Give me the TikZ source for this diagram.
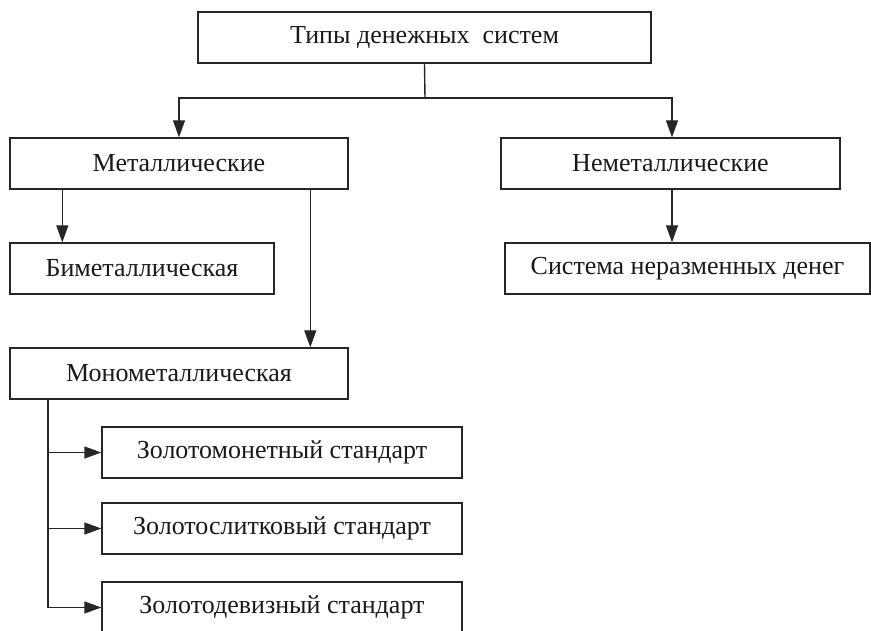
\documentclass[tikz,border=0pt]{standalone}
\usepackage{fontspec}
\setmainfont{Liberation Serif}
\usetikzlibrary{arrows.meta,calc}
\begin{document}
\begin{tikzpicture}[x=1pt,y=-1pt,
  box/.style={draw=black!85,line width=1.4pt,minimum height=51pt,inner sep=0pt,
    font=\fontsize{26}{31}\selectfont,text=black!90},
  link/.style={draw=black!85,line width=1.4pt},
  arr/.style={link,-{Triangle[length=17pt,width=12pt]}}]
\useasboundingbox (0,0) rectangle (871,631);
\clip (0,0) rectangle (871,631);
\node[box,minimum width=453pt] (top) at (424.5,37.5) {Типы денежных\ \ систем};
\node[box,minimum width=338pt] (metal) at (179,163.5) {Металлические};
\node[box,minimum width=339pt] (nonmetal) at (670.5,163.5) {Неметаллические};
\node[box,minimum width=264pt] (bimetal) at (142,268.5) {Биметаллическая};
\node[box,minimum width=365pt] (fiat) at (687.5,268.5) {Система неразменных денег};
\node[box,minimum width=338pt] (mono) at (179,373.5) {Монометаллическая};
\node[box,minimum width=360pt] (zA) at (282,452.5) {Золотомонетный стандарт};
\node[box,minimum width=360pt] (zB) at (282,528.5) {Золотослитковый стандарт};
\node[box,minimum width=360pt] (zC) at (282,607.5) {Золотодевизный стандарт};
\coordinate (j) at (425,98);
\coordinate (jr) at (672,98);
\coordinate (t) at (48,607.5);
\draw[link] (top.south) -- (j);
\draw[arr] (j) -| (metal.north);
\draw[arr] (j) -- (jr) -- (jr |- nonmetal.north);
\draw[arr] (nonmetal.south -| jr) -- (fiat.north -| jr);
\draw[arr] ($(metal.south west)+(53,0)$) -- ($(bimetal.north west)+(53,0)$);
\draw[arr] ($(metal.south west)+(301,0)$) -- ($(mono.north west)+(301,0)$);
\draw[link] (mono.south -| t) -- (t);
\draw[arr] (zA.west -| t) -- (zA.west);
\draw[arr] (zB.west -| t) -- (zB.west);
\draw[arr] (t) -- (zC.west);
\end{tikzpicture}
\end{document}
